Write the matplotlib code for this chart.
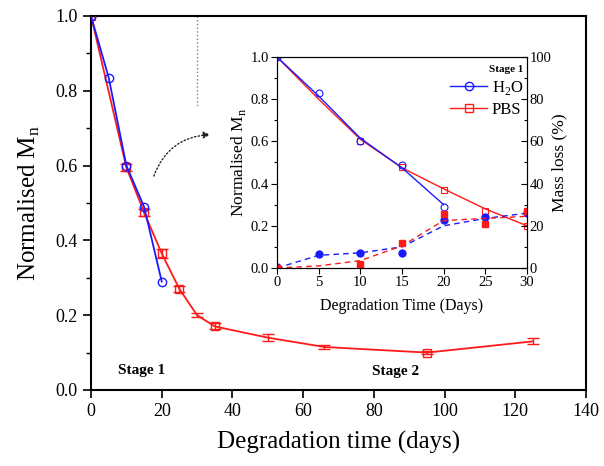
import matplotlib
matplotlib.use('Agg')
import matplotlib.pyplot as plt
from matplotlib.ticker import MultipleLocator
from matplotlib.lines import Line2D

plt.rcParams['font.family'] = ['Liberation Serif', 'DejaVu Serif']
plt.rcParams['mathtext.fontset'] = 'custom'
plt.rcParams['mathtext.rm'] = 'Liberation Serif'

BLUE = '#1a1aff'
RED = '#ff1a1a'

# main plot: normalised Mn vs time
h2o_days = [0, 5, 10, 15, 20]
h2o_mn = [1.0, 0.835, 0.60, 0.49, 0.29]
pbs_days = [0, 10, 15, 20, 25, 30, 35, 50, 66, 95, 125]
pbs_mn = [1.0, 0.595, 0.475, 0.365, 0.27, 0.20, 0.17, 0.14, 0.115, 0.10, 0.13]
pbs_err = [0.0, 0.01, 0.01, 0.012, 0.008, 0.005, 0.008, 0.01, 0.006, 0.005, 0.008]
pbs_marked = [0, 1, 2, 3, 4, 6, 9]

# inset: stage 1
in_h2o_days = [0, 5, 10, 15, 20]
in_h2o_mn = [1.0, 0.83, 0.60, 0.49, 0.29]
in_h2o_fit = [1.0, 0.815, 0.615, 0.475, 0.30]
in_pbs_days = [0, 10, 15, 20, 25, 30]
in_pbs_mn = [1.0, 0.60, 0.48, 0.37, 0.27, 0.20]
fit_days = [0, 5, 10, 15, 20, 25, 30]
in_pbs_fit = [1.0, 0.80, 0.61, 0.475, 0.375, 0.28, 0.20]

ml_h2o_days = [0, 5, 10, 15, 20, 25, 30]
ml_h2o = [0.3, 6.8, 7.0, 7.0, 22.8, 24.0, 26.0]
ml_h2o_fit = [0.0, 6.0, 7.2, 10.0, 20.0, 23.5, 26.0]
ml_pbs_days = [0, 10, 15, 20, 25, 30]
ml_pbs = [0.0, 2.0, 12.0, 25.5, 21.0, 26.8]
ml_pbs_fit = [0.0, 1.0, 3.5, 10.5, 22.5, 23.5, 24.5]

fig = plt.figure(figsize=(6.04, 4.66), dpi=100)
ax = fig.add_axes([0.1507, 0.1631, 0.8195, 0.8026])

ax.plot(h2o_days, h2o_mn, '-', color=BLUE, lw=1.3, marker='o', ms=6,
        mfc='none', mec=BLUE, mew=1.0, zorder=3)
ax.errorbar(pbs_days, pbs_mn, yerr=pbs_err, fmt='-', color=RED, lw=1.3,
            marker='s', ms=6, mfc='none', mec=RED, mew=1.0,
            markevery=pbs_marked, capsize=4, elinewidth=1.0, zorder=2)

ax.set_xlim(0, 140)
ax.set_ylim(0, 1.0)
ax.xaxis.set_major_locator(MultipleLocator(20))
ax.yaxis.set_major_locator(MultipleLocator(0.2))
ax.yaxis.set_minor_locator(MultipleLocator(0.1))
ax.tick_params(direction='out', length=6, width=1.2, labelsize=13)
ax.tick_params(which='minor', direction='out', length=3.5, width=1.0)
for s in ax.spines.values():
    s.set_linewidth(1.5)
ax.xaxis.set_major_formatter(matplotlib.ticker.FuncFormatter(lambda v, p: f'{v:.0f}'))
ax.yaxis.set_major_formatter(matplotlib.ticker.FuncFormatter(lambda v, p: f'{v:.1f}'))
ax.set_xlabel('Degradation time (days)', fontsize=18, labelpad=8)
ax.set_ylabel(r'Normalised M$_\mathregular{n}$', fontsize=18, labelpad=10)

ax.text(14.3, 0.053, 'Stage 1', fontsize=11, fontweight='bold', ha='center', va='center')
ax.text(86, 0.05, 'Stage 2', fontsize=11, fontweight='bold', ha='center', va='center')

ax.plot([30, 30], [1.0, 0.754], ls=':', color='gray', lw=1.0)
ax.annotate('', xy=(34.5, 0.683), xytext=(17.5, 0.565),
            arrowprops=dict(arrowstyle='-|>', ls=':', color='#222222', lw=1.0,
                            connectionstyle='arc3,rad=-0.35', mutation_scale=10))

# inset
ai = fig.add_axes([0.4586, 0.4249, 0.4139, 0.4528])
ai.plot(in_h2o_days, in_h2o_fit, '-', color=BLUE, lw=1.0, zorder=3)
ai.plot(in_h2o_days, in_h2o_mn, 'o', ms=5, mfc='none', mec=BLUE, mew=0.8, zorder=3)
ai.plot(fit_days, in_pbs_fit, '-', color=RED, lw=1.0, zorder=2)
ai.plot(in_pbs_days, in_pbs_mn, 's', ms=5, mfc='none', mec=RED, mew=0.8, zorder=2)
ai.set_xlim(0, 30)
ai.set_ylim(0, 1.0)
ai.xaxis.set_major_locator(MultipleLocator(5))
ai.yaxis.set_major_locator(MultipleLocator(0.2))
ai.yaxis.set_minor_locator(MultipleLocator(0.1))
ai.yaxis.set_major_formatter(matplotlib.ticker.FuncFormatter(lambda v, p: f'{v:.1f}'))
ai.tick_params(direction='out', length=4, width=0.8, labelsize=10.5, pad=2)
ai.tick_params(which='minor', direction='out', length=2.5, width=0.8)
ai.set_xlabel('Degradation Time (Days)', fontsize=11.5, labelpad=6)
ai.set_ylabel(r'Normalised M$_\mathregular{n}$', fontsize=12.5, labelpad=2)

ar = ai.twinx()
ar.plot(fit_days, ml_h2o_fit, '--', color=BLUE, lw=1.0, dashes=(4, 3))
ar.plot(ml_h2o_days, ml_h2o, 'o', ms=5, color=BLUE)
ar.plot(fit_days, ml_pbs_fit, '--', color=RED, lw=1.0, dashes=(4, 3))
ar.plot(ml_pbs_days, ml_pbs, 's', ms=5, color=RED)
ar.set_ylim(0, 100)
ar.yaxis.set_major_locator(MultipleLocator(20))
ar.yaxis.set_minor_locator(MultipleLocator(10))
ar.tick_params(direction='in', length=4, width=0.8, labelsize=10.5, pad=2)
ar.tick_params(which='minor', direction='in', length=2.5, width=0.8)
ar.set_ylabel('Mass loss (%)', fontsize=12.5, labelpad=0)

handles = [Line2D([], [], color=BLUE, lw=1.0, marker='o', ms=6, mfc='none', mec=BLUE),
           Line2D([], [], color=RED, lw=1.0, marker='s', ms=6, mfc='none', mec=RED)]
leg = ai.legend(handles, [r'H$_\mathregular{2}$O', 'PBS'], title='Stage 1',
                loc='upper right', frameon=False, fontsize=12, title_fontsize=8,
                handlelength=2.2, borderaxespad=0.1, labelspacing=0.3,
                handletextpad=0.3, bbox_to_anchor=(1.02, 1.0), alignment='right')
leg.get_title().set_fontweight('bold')

fig.savefig('out.png', dpi=100)
